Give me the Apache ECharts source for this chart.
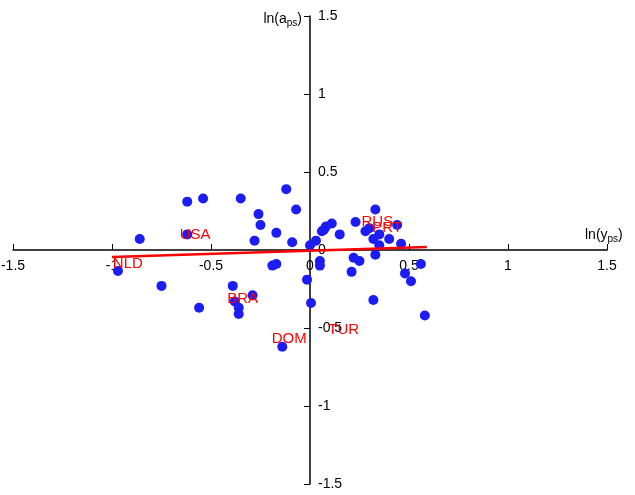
<!DOCTYPE html>
<html>
<head>
<meta charset="utf-8">
<script src="https://cdn.jsdelivr.net/npm/echarts@6/dist/echarts.min.js"></script>
<style>html,body{margin:0;padding:0;background:#fff}#main{width:635px;height:495px}</style>
</head>
<body>
<div id="main"></div>
<script>
// countries (scatter points)
var pointsX = [-0.86,-0.97,-0.75,-0.62,-0.62,-0.54,-0.56,-0.35,-0.26,-0.25,-0.28,-0.17,-0.12,-0.07,-0.09,-0.19,-0.17,-0.39,-0.29,-0.38,-0.36,-0.36,-0.14,-0.015,0.005,
  0.0,0.03,0.06,0.07,0.08,0.11,0.15,0.23,0.33,0.28,0.30,0.32,0.35,0.35,0.40,0.44,0.46,0.05,0.05,0.22,0.25,0.33,0.21,0.48,0.51,0.56,0.32,0.58];
var pointsY = [0.07,-0.135,-0.23,0.31,0.10,0.33,-0.37,0.33,0.23,0.16,0.06,0.11,0.39,0.26,0.05,-0.10,-0.09,-0.23,-0.29,-0.33,-0.37,-0.41,-0.62,-0.19,-0.34,
  0.03,0.06,0.12,0.13,0.15,0.17,0.10,0.18,0.26,0.12,0.14,0.07,0.10,0.03,0.07,0.16,0.04,-0.07,-0.10,-0.05,-0.07,-0.03,-0.14,-0.15,-0.20,-0.09,-0.32,-0.42];
// labelled countries (label anchor positions)
var labelNames = ['USA','NLD','BRA','DOM','TUR','RUS','PRT'];
var labelX = [-0.58,-0.92,-0.34,-0.105,0.17,0.34,0.39];
var labelY = [0.10,-0.09,-0.31,-0.57,-0.51,0.18,0.14];
// fitted line
var fitX = [-1.0,0.59];
var fitY = [-0.045,0.02];

var pts = pointsX.map(function(x,i){return [x,pointsY[i]];});
var labs = labelX.map(function(x,i){return {value:[x,labelY[i]],name:labelNames[i]};});
var fit = fitX.map(function(x,i){return [x,fitY[i]];});

var font = 'Liberation Sans';
var W = 635 - 13 - 28, H = 495 - 16 - 11;
var chart = echarts.init(document.getElementById('main'));
chart.setOption({
  animation:false,
  grid:{left:13,right:28,top:16,bottom:11,containLabel:false,outerBoundsMode:'none'},
  xAxis:{
    type:'value',min:-1.5,max:1.5,interval:0.5,position:'bottom',offset:-H/2,
    axisLine:{onZero:false,lineStyle:{color:'#000',width:1.5}},
    axisTick:{inside:true,length:6,lineStyle:{color:'#000'}},
    axisLabel:{color:'#000',fontFamily:font,fontSize:14,margin:9},
    splitLine:{show:false},
    name:'{a|ln(y}{s|ps}{a|)}',nameLocation:'end',nameGap:-22,
    nameTextStyle:{verticalAlign:'bottom',padding:[0,0,6,0],rich:{a:{fontFamily:font,fontSize:14,color:'#000'},s:{fontFamily:font,fontSize:10,color:'#000',padding:[8,0,0,0]}}}
  },
  yAxis:{
    type:'value',min:-1.5,max:1.5,interval:0.5,position:'left',offset:-W/2,
    axisLine:{onZero:false,lineStyle:{color:'#000',width:1.5}},
    axisTick:{inside:false,length:6,lineStyle:{color:'#000'}},
    axisLabel:{inside:true,color:'#000',fontFamily:font,fontSize:14,margin:8},
    splitLine:{show:false},
    name:'{a|ln(a}{s|ps}{a|)}',nameLocation:'end',nameGap:-12,
    nameTextStyle:{align:'right',padding:[0,8,0,0],rich:{a:{fontFamily:font,fontSize:14,color:'#000'},s:{fontFamily:font,fontSize:10,color:'#000',padding:[8,0,0,0]}}}
  },
  series:[
    {type:'scatter',data:pts,symbolSize:10,itemStyle:{color:'#1c1cf5',opacity:1},z:3},
    {type:'line',data:fit,showSymbol:false,lineStyle:{color:'#f00',width:2.5},z:4},
    {type:'scatter',data:labs,symbolSize:0,z:5,itemStyle:{opacity:1},
      label:{show:true,position:'inside',formatter:'{b}',color:'#f00',fontFamily:font,fontSize:15}}
  ]
});
</script>
</body>
</html>
